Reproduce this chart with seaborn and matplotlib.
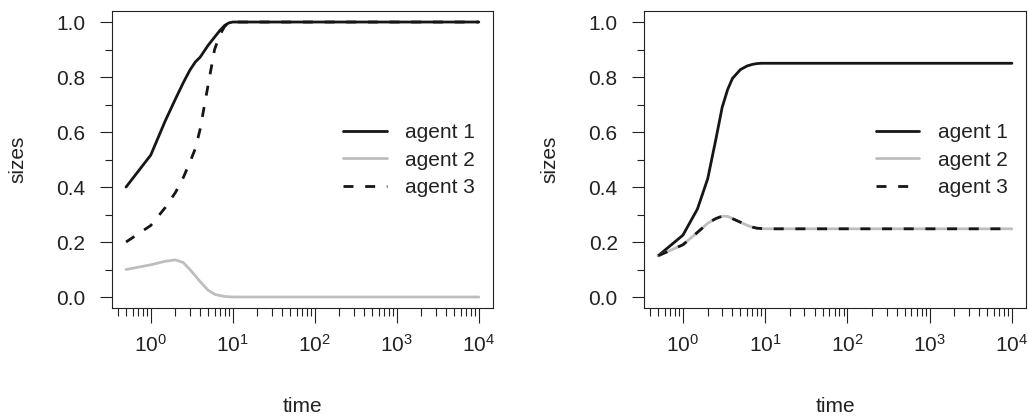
import numpy as np
import pandas as pd
import seaborn as sns
import matplotlib.pyplot as plt
from matplotlib.lines import Line2D
from matplotlib.ticker import (LogLocator, LogFormatterSciNotation, NullFormatter,
                               MultipleLocator, FormatStrFormatter)

# sample times shared by both runs
time = [0.5, 1, 1.5, 2, 2.5, 3, 3.5, 4, 5, 6, 7, 8, 9, 10,
        12, 15, 20, 50, 100, 1000, 10000]

# left run
left_agent1 = [0.40, 0.516, 0.64, 0.72, 0.78, 0.825, 0.855, 0.872, 0.915, 0.945,
               0.97, 0.988, 0.997, 1.0, 1.0, 1.0, 1.0, 1.0, 1.0, 1.0, 1.0]
left_agent2 = [0.10, 0.117, 0.13, 0.135, 0.125, 0.10, 0.077, 0.056, 0.025, 0.01,
               0.005, 0.002, 0.001, 0.0, 0.0, 0.0, 0.0, 0.0, 0.0, 0.0, 0.0]
left_agent3 = [0.20, 0.26, 0.325, 0.38, 0.435, 0.49, 0.54, 0.61, 0.77, 0.90,
               0.955, 0.985, 0.996, 1.0, 1.0, 1.0, 1.0, 1.0, 1.0, 1.0, 1.0]

# right run (agents 2 and 3 coincide)
right_agent1 = [0.15, 0.225, 0.32, 0.43, 0.57, 0.69, 0.755, 0.795, 0.827, 0.84,
                0.846, 0.849, 0.85, 0.85, 0.85, 0.85, 0.85, 0.85, 0.85, 0.85, 0.85]
right_agent2 = [0.15, 0.19, 0.235, 0.268, 0.285, 0.294, 0.293, 0.285, 0.272, 0.261,
                0.254, 0.25, 0.249, 0.248, 0.248, 0.248, 0.248, 0.248, 0.248, 0.248, 0.248]
right_agent3 = list(right_agent2)

agents = ["agent 1", "agent 2", "agent 3"]
palette = {"agent 1": "#161616", "agent 2": "#bebebe", "agent 3": "#161616"}
dashes = {"agent 1": "", "agent 2": "", "agent 3": (3.6, 4.2)}


def long_form(a1, a2, a3):
    frames = []
    for name, vals in zip(agents, [a1, a2, a3]):
        frames.append(pd.DataFrame({"time": time, "sizes": vals, "agent": name}))
    return pd.concat(frames, ignore_index=True)


sns.set_style("ticks")
plt.rcParams["font.family"] = ["Liberation Sans", "DejaVu Sans"]
plt.rcParams["mathtext.fontset"] = "custom"
plt.rcParams["mathtext.rm"] = "Liberation Sans"
plt.rcParams["mathtext.it"] = "Liberation Sans"
plt.rcParams["mathtext.default"] = "regular"

fig = plt.figure(figsize=(10.28, 4.16), dpi=100)
ax_l = fig.add_axes([0.1089, 0.2596, 0.3706, 0.7139])
ax_r = fig.add_axes([0.6265, 0.2596, 0.3716, 0.7139])

edge = "#222222"
fs = 15

for ax, data in [(ax_l, long_form(left_agent1, left_agent2, left_agent3)),
                 (ax_r, long_form(right_agent1, right_agent2, right_agent3))]:
    sns.lineplot(data=data, x="time", y="sizes", hue="agent", style="agent",
                 hue_order=agents, style_order=agents, palette=palette,
                 dashes=dashes, linewidth=2.0, legend=False, ax=ax)
    ax.set_xscale("log")
    ax.set_xlim(10 ** -0.473, 10 ** 4.172)
    ax.set_ylim(-0.04, 1.04)

    ax.xaxis.set_major_locator(LogLocator(base=10, numticks=100))
    ax.xaxis.set_major_formatter(LogFormatterSciNotation())
    ax.xaxis.set_minor_locator(LogLocator(base=10, subs=np.arange(2, 10), numticks=100))
    ax.xaxis.set_minor_formatter(NullFormatter())
    ax.yaxis.set_major_locator(MultipleLocator(0.2))
    ax.yaxis.set_major_formatter(FormatStrFormatter("%.1f"))
    ax.yaxis.set_minor_locator(MultipleLocator(0.1))

    ax.tick_params(axis="both", which="both", direction="out", width=0.8,
                   colors=edge, labelcolor="#222222", labelsize=fs)
    ax.tick_params(axis="x", which="major", length=10.5, pad=8)
    ax.tick_params(axis="x", which="minor", length=5.5)
    ax.tick_params(axis="y", which="major", length=9, pad=10)
    ax.tick_params(axis="y", which="minor", length=5)

    for side in ["left", "right", "top", "bottom"]:
        ax.spines[side].set_visible(True)
        ax.spines[side].set_color(edge)
        ax.spines[side].set_linewidth(0.8)

    ax.set_xlabel("time", fontsize=fs, color="#222222")
    ax.set_ylabel("sizes", fontsize=fs, color="#222222")
    ax.xaxis.set_label_coords(0.5, -0.30)
    ax.yaxis.set_label_coords(-0.222, 0.5)

    handles = [Line2D([], [], color=palette[a], linewidth=2.0,
                      linestyle=(0, dashes[a]) if dashes[a] else "-") for a in agents]
    ax.legend(handles, agents, loc="center left", bbox_to_anchor=(0.606, 0.498),
              frameon=False, fontsize=fs, borderpad=0, borderaxespad=0,
              handlelength=2.1, handletextpad=0.9, labelspacing=0.4,
              labelcolor="#222222")

fig.savefig("out.png", dpi=100)
